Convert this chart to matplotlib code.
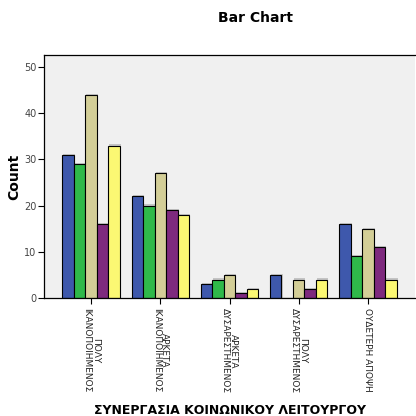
import numpy as np
import matplotlib
matplotlib.use('Agg')
import matplotlib.pyplot as plt

# --- DATA ---
categories = ['ΠΟΛΥ\nΙΚΑΝΟΠΟΙΗΜΕΝΟΣ', 'ΑΡΚΕΤΑ\nΙΚΑΝΟΠΟΙΗΜΕΝΟΣ', 'ΑΡΚΕΤΑ\nΔΥΣΑΡΕΣΤΗΜΕΝΟΣ',
              'ΠΟΛΥ\nΔΥΣΑΡΕΣΤΗΜΕΝΟΣ', 'ΟΥΔΕΤΕΡΗ ΑΠΟΨΗ']
series_1 = [31, 22, 3, 5, 16]
series_2 = [29, 20, 4, 0, 9]
series_3 = [44, 27, 5, 4, 15]
series_4 = [16, 19, 1, 2, 11]
series_5 = [33, 18, 2, 4, 4]
y_ticks = [0, 10, 20, 30, 40, 50]

all_series = [series_1, series_2, series_3, series_4, series_5]
colors = ['#3e58ac', '#2fb94a', '#d3ce97', '#7e2a7e', '#fbf873']

fig = plt.figure(figsize=(4.16, 4.16), dpi=100)
ax = fig.add_axes([44 / 416, 1 - 298 / 416, 371 / 416, 243 / 416])
ax.set_facecolor('#f0f0f0')

x = np.arange(len(categories))
w = 0.166
for i, (vals, c) in enumerate(zip(all_series, colors)):
    pos = x + (i - 2) * w
    vals = np.array(vals)
    # soft drop shadow
    ax.bar(pos + 0.015, np.where(vals > 0, vals + 0.25, 0), width=w, color='#9a9a9a',
           alpha=0.5, zorder=1, linewidth=0)
    ax.bar(pos, vals, width=w, color=c, edgecolor='black', linewidth=0.8, zorder=2)

ax.set_xlim(-0.68, 4.68)
ax.set_ylim(0, 52.6)
ax.set_yticks(y_ticks)
ax.set_xticks(x)
ax.set_xticklabels(categories, rotation=270, fontsize=6.5, ha='center', va='top',
                   linespacing=0.9, color='#222222')
ax.tick_params(axis='y', labelsize=7, labelcolor='#444444', length=4, width=0.8, pad=1.5)
ax.tick_params(axis='x', length=4, width=0.8)
for s in ax.spines.values():
    s.set_linewidth(0.9)
ax.spines['right'].set_visible(False)

ax.set_ylabel('Count', fontsize=10, fontweight='bold')
ax.yaxis.set_label_coords(-0.062, 0.5)
fig.text(230 / 416, 1 - 410 / 416, 'ΣΥΝΕΡΓΑΣΙΑ ΚΟΙΝΩΝΙΚΟΥ ΛΕΙΤΟΥΡΓΟΥ', fontsize=9,
         fontweight='bold', ha='center', va='center')
fig.text(255 / 416, 1 - 18 / 416, 'Bar Chart', fontsize=10, fontweight='bold',
         ha='center', va='center')

fig.savefig('out.png', dpi=100)
